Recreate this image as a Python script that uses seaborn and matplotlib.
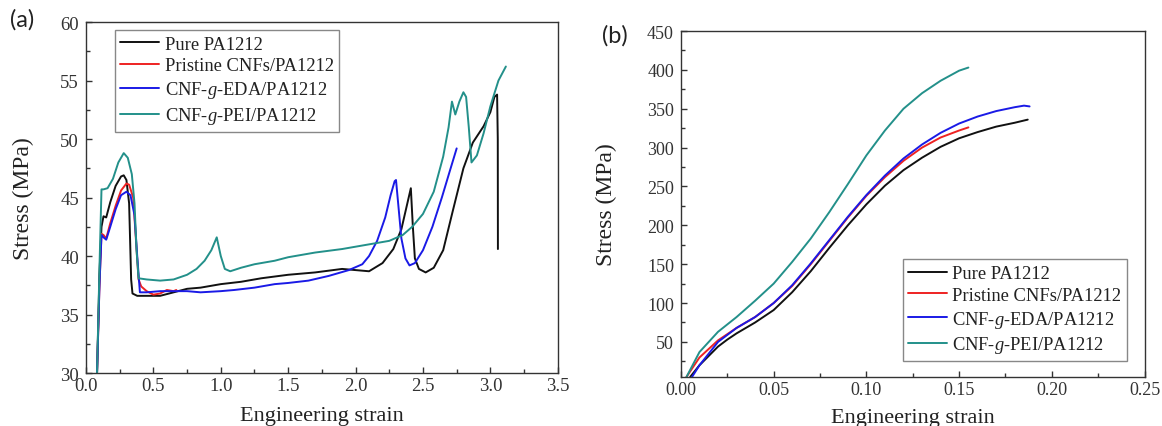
import matplotlib
matplotlib.use("Agg")
import matplotlib.pyplot as plt
import seaborn as sns
import pandas as pd
from matplotlib.ticker import MultipleLocator

# ---- data ----
labels = ["Pure PA1212", "Pristine CNFs/PA1212",
          "CNF-$\\mathit{g}$-EDA/PA1212", "CNF-$\\mathit{g}$-PEI/PA1212"]
colors = ["#111111", "#ee2222", "#1a1ae6", "#23908a"]

# (a) tensile curves, full range
a_pure_x = [0.082, 0.10, 0.115, 0.13, 0.15, 0.18, 0.22, 0.26, 0.28, 0.30, 0.32, 0.335, 0.345, 0.38, 0.45, 0.55,
            0.65, 0.75, 0.85, 1.0, 1.15, 1.3, 1.5, 1.7, 1.9, 2.0, 2.1, 2.2, 2.28, 2.34, 2.38, 2.41, 2.425, 2.44,
            2.47, 2.52, 2.58, 2.65, 2.72, 2.8, 2.87, 2.95, 3.0, 3.03, 3.05, 3.055, 3.056]
a_pure_y = [30.0, 38.5, 42.5, 43.4, 43.3, 44.6, 46.0, 46.8, 46.9, 46.5, 44.5, 38.0, 36.8, 36.6, 36.6, 36.6,
            36.9, 37.2, 37.3, 37.6, 37.8, 38.1, 38.4, 38.6, 38.9, 38.8, 38.7, 39.4, 40.6, 42.3, 44.3, 45.8, 42.5, 39.8,
            38.9, 38.6, 39.0, 40.5, 43.8, 47.5, 49.7, 51.1, 52.3, 53.6, 53.8, 50.0, 40.6]

a_pris_x = [0.082, 0.10, 0.115, 0.13, 0.15, 0.18, 0.22, 0.26, 0.30, 0.32, 0.35, 0.37, 0.39, 0.41, 0.45,
            0.50, 0.55, 0.60, 0.65, 0.67]
a_pris_y = [30.0, 37.5, 41.9, 41.8, 41.5, 42.8, 44.3, 45.6, 46.2, 46.1, 45.0, 41.5, 38.0, 37.4, 37.0,
            36.7, 36.8, 37.1, 37.0, 37.1]

a_eda_x = [0.082, 0.10, 0.115, 0.13, 0.15, 0.18, 0.22, 0.26, 0.30, 0.33, 0.36, 0.38, 0.40, 0.45, 0.55,
           0.75, 0.85, 1.0, 1.1, 1.25, 1.4, 1.5, 1.65, 1.8, 1.95, 2.05, 2.1, 2.16, 2.22, 2.26, 2.29, 2.30,
           2.32, 2.34, 2.37, 2.40, 2.44, 2.5, 2.57, 2.64, 2.7, 2.75]
a_eda_y = [30.0, 37.5, 41.8, 41.6, 41.4, 42.5, 44.0, 45.2, 45.5, 45.2, 43.5, 40.0, 36.9, 36.9, 37.0,
           37.0, 36.9, 37.0, 37.1, 37.3, 37.6, 37.7, 37.9, 38.3, 38.8, 39.3, 40.0, 41.3, 43.3, 45.2, 46.4, 46.5,
           44.0, 41.5, 39.8, 39.2, 39.4, 40.5, 42.5, 45.0, 47.3, 49.2]

a_pei_x = [0.082, 0.10, 0.115, 0.13, 0.16, 0.20, 0.24, 0.28, 0.31, 0.34, 0.36, 0.375, 0.39, 0.45, 0.55,
           0.65, 0.75, 0.82, 0.88, 0.93, 0.97, 1.0, 1.03, 1.07, 1.15, 1.25, 1.4, 1.5, 1.7, 1.9, 2.0, 2.15,
           2.25, 2.35, 2.42, 2.5, 2.58, 2.65, 2.69, 2.715, 2.74, 2.77, 2.80, 2.82, 2.84, 2.86, 2.9, 2.95, 3.0,
           3.06, 3.115]
a_pei_y = [30.0, 39.0, 45.7, 45.7, 45.8, 46.6, 48.0, 48.8, 48.4, 47.0, 44.5, 40.5, 38.1, 38.0, 37.9,
           38.0, 38.4, 38.9, 39.6, 40.5, 41.6, 40.0, 38.9, 38.7, 39.0, 39.3, 39.6, 39.9, 40.3, 40.6, 40.8, 41.1,
           41.3, 41.8, 42.5, 43.6, 45.5, 48.5, 51.0, 53.2, 52.1, 53.2, 54.0, 53.6, 51.0, 48.0, 48.6, 50.5, 52.8,
           55.0, 56.2]

# (b) tensile curves
b_pure_x = [0.005, 0.01, 0.02, 0.025, 0.03, 0.04, 0.05, 0.06, 0.07, 0.08, 0.09, 0.10, 0.11, 0.12, 0.13,
            0.14, 0.15, 0.16, 0.17, 0.18, 0.187]
b_pure_y = [5, 20, 44, 53, 61, 75, 91, 114, 141, 171, 200, 227, 251, 271, 287,
            301, 312, 320, 327, 332, 336]

b_pris_x = [0.003, 0.01, 0.02, 0.03, 0.04, 0.05, 0.06, 0.07, 0.08, 0.09, 0.10, 0.11, 0.12, 0.13, 0.14,
            0.15, 0.155]
b_pris_y = [5, 30, 52, 68, 82, 100, 122, 150, 180, 210, 238, 262, 283, 300, 313,
            322, 326]

b_eda_x = [0.006, 0.01, 0.02, 0.03, 0.04, 0.05, 0.06, 0.07, 0.08, 0.09, 0.10, 0.11, 0.12, 0.13, 0.14,
           0.15, 0.16, 0.17, 0.18, 0.185, 0.188]
b_eda_y = [5, 20, 50, 68, 82, 100, 123, 151, 181, 211, 239, 264, 286, 304, 319,
           331, 340, 347, 352, 354, 353]

b_pei_x = [0.003, 0.01, 0.02, 0.03, 0.04, 0.05, 0.06, 0.07, 0.08, 0.09, 0.10, 0.11, 0.12, 0.13, 0.14,
           0.15, 0.155]
b_pei_y = [5, 37, 63, 82, 103, 125, 153, 183, 217, 253, 290, 322, 350, 370, 386,
           399, 403]

panel_a = [(a_pure_x, a_pure_y), (a_pris_x, a_pris_y), (a_eda_x, a_eda_y), (a_pei_x, a_pei_y)]
panel_b = [(b_pure_x, b_pure_y), (b_pris_x, b_pris_y), (b_eda_x, b_eda_y), (b_pei_x, b_pei_y)]

# ---- style ----
sns.set_style("ticks")
plt.rcParams["font.family"] = ["Liberation Serif", "DejaVu Serif"]
plt.rcParams["mathtext.fontset"] = "custom"
plt.rcParams["mathtext.rm"] = "Liberation Serif"
plt.rcParams["mathtext.it"] = "Liberation Serif:italic"

fig = plt.figure(figsize=(11.62, 4.27), dpi=100)
ax1 = fig.add_axes([0.074, 0.124, 0.406, 0.822])
ax2 = fig.add_axes([0.586, 0.115, 0.399, 0.810])


def draw(ax, curves, tick_size):
    for (x, y), lab, c in zip(curves, labels, colors):
        df = pd.DataFrame({"x": x, "y": y})
        sns.lineplot(data=df, x="x", y="y", ax=ax, color=c, lw=1.4, sort=False,
                     estimator=None, label=lab)
    for s in ax.spines.values():
        s.set_color("#333333")
        s.set_linewidth(1.0)
    ax.tick_params(which="both", direction="in", colors="#333333", labelcolor="#333333",
                   labelsize=tick_size, width=1.0)
    ax.tick_params(which="major", length=4)
    ax.tick_params(which="minor", length=3)
    ax.tick_params(axis="x", pad=3)
    ax.tick_params(axis="y", pad=5)
    ax.set_xlabel("Engineering strain", fontsize=16, color="#222222")
    ax.set_ylabel("Stress (MPa)", fontsize=17, color="#222222")


draw(ax1, panel_a, 13.5)
ax1.set_xlim(0, 3.5)
ax1.set_ylim(30, 60)
ax1.xaxis.set_major_locator(MultipleLocator(0.5))
ax1.xaxis.set_minor_locator(MultipleLocator(0.25))
ax1.yaxis.set_major_locator(MultipleLocator(5))
ax1.yaxis.set_minor_locator(MultipleLocator(2.5))
ax1.set_xticklabels([f"{v:.1f}" for v in ax1.get_xticks()])
ax1.xaxis.set_label_coords(0.5, -0.094)
ax1.yaxis.set_label_coords(-0.11, 0.5)

draw(ax2, panel_b, 13)
ax2.set_xlim(0, 0.25)
ax2.set_ylim(5, 450)
ax2.set_xticks([0.0, 0.05, 0.10, 0.15, 0.20, 0.25])
ax2.set_xticklabels(["0.00", "0.05", "0.10", "0.15", "0.20", "0.25"])
ax2.xaxis.set_minor_locator(MultipleLocator(0.025))
ax2.set_yticks([50, 100, 150, 200, 250, 300, 350, 400, 450])
ax2.yaxis.set_minor_locator(MultipleLocator(25))
ax2.xaxis.set_label_coords(0.5, -0.09)
ax2.yaxis.set_label_coords(-0.137, 0.5)

leg_kw = dict(fontsize=13.3, frameon=True, fancybox=False, borderaxespad=0, borderpad=0.3,
              labelspacing=0.26, handlelength=2.1, handletextpad=0.3, edgecolor="#888888")
l1 = ax1.legend(loc="upper left", bbox_to_anchor=(0.061, 0.977), **leg_kw)
l2 = ax2.legend(loc="lower right", bbox_to_anchor=(0.962, 0.046), **leg_kw)
for lg in (l1, l2):
    lg.get_frame().set_linewidth(1.0)
    lg.get_frame().set_alpha(1)
    for t in lg.get_texts():
        t.set_color("#222222")

fig.text(0.019, 0.953, "(a)", fontsize=17, family="Lato", ha="center", va="center", color="#222222")
fig.text(0.529, 0.915, "(b)", fontsize=17, family="Lato", ha="center", va="center", color="#222222")

fig.savefig("out.png", dpi=100)
